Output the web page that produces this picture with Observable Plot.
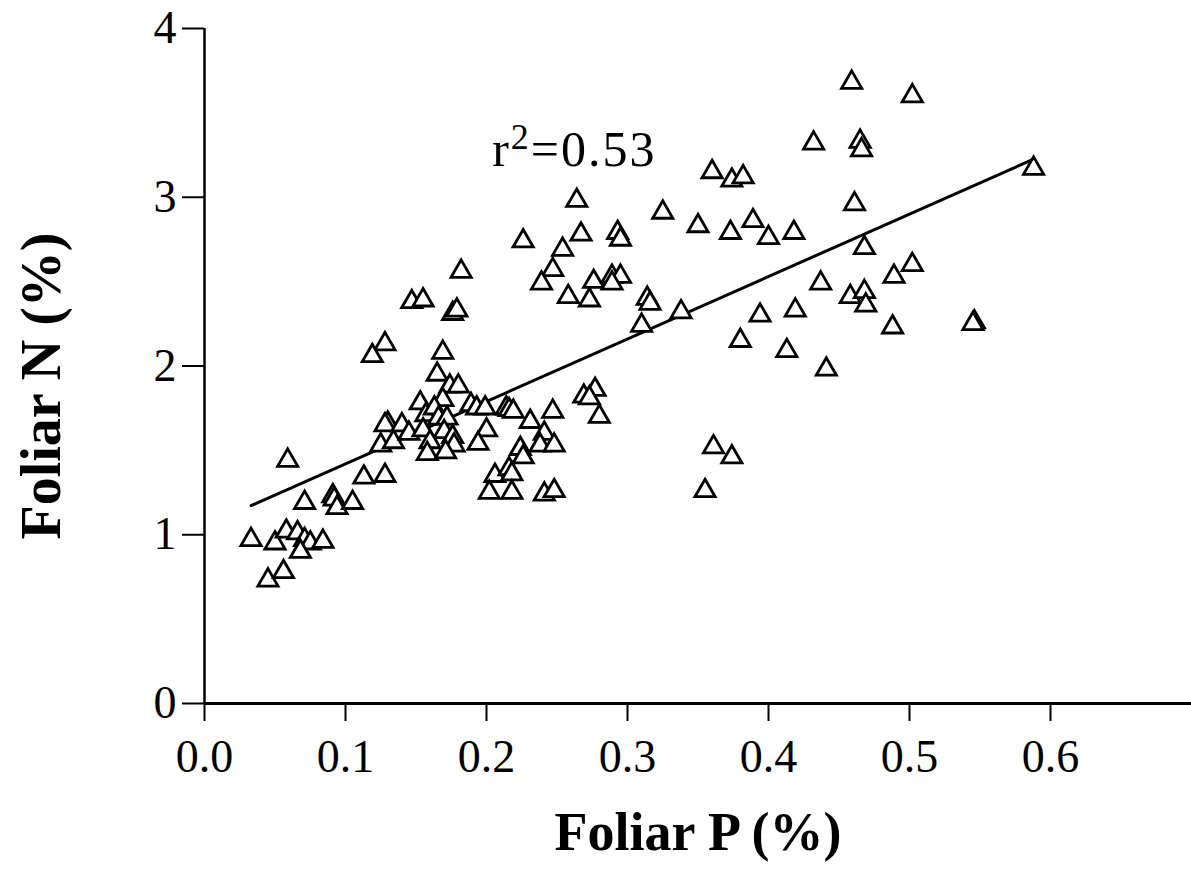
<!DOCTYPE html>
<html>
<head>
<meta charset="utf-8">
<script src="https://cdn.jsdelivr.net/npm/d3@7"></script>
<script src="https://cdn.jsdelivr.net/npm/@observablehq/plot@0.6"></script>
<style>
  html, body { margin: 0; padding: 0; background: #fff; }
</style>
</head>
<body>
<div id="chart"></div>
<script>
// Foliar P (%) values
const foliarP = [
  0.033, 0.050, 0.058, 0.066, 0.071, 0.075, 0.068, 0.084, 0.045, 0.056,
  0.059, 0.071, 0.091, 0.092, 0.094, 0.105, 0.113, 0.128, 0.130, 0.128,
  0.125, 0.134, 0.140, 0.128, 0.119, 0.169, 0.165, 0.174, 0.180, 0.169,
  0.153, 0.145, 0.157, 0.163, 0.166, 0.172, 0.155, 0.170, 0.176, 0.160,
  0.177, 0.158, 0.171, 0.189, 0.193, 0.199, 0.214, 0.216, 0.219, 0.200,
  0.194, 0.231, 0.247, 0.241, 0.238, 0.248, 0.224, 0.226, 0.206, 0.216,
  0.218, 0.202, 0.218, 0.241, 0.248, 0.269, 0.277, 0.273, 0.280, 0.264,
  0.226, 0.267, 0.293, 0.295, 0.254, 0.247, 0.239, 0.258, 0.273, 0.276,
  0.289, 0.295, 0.289, 0.182, 0.147, 0.155, 0.176, 0.179, 0.360, 0.374,
  0.382, 0.325, 0.350, 0.373, 0.389, 0.400, 0.418, 0.461, 0.314, 0.316,
  0.338, 0.310, 0.468, 0.437, 0.458, 0.468, 0.469, 0.489, 0.394, 0.419,
  0.380, 0.488, 0.459, 0.502, 0.432, 0.465, 0.466, 0.588, 0.502, 0.546,
  0.545, 0.413, 0.441, 0.361, 0.374, 0.355
];
// Foliar N (%) values
const foliarN = [
  0.97, 0.95, 1.02, 1.01, 0.97, 0.95, 0.90, 0.96, 0.73, 0.78,
  1.44, 1.19, 1.23, 1.21, 1.16, 1.19, 1.34, 1.35, 1.66, 1.65,
  1.53, 1.55, 1.65, 2.13, 2.06, 2.08, 1.95, 1.88, 1.88, 1.80,
  1.78, 1.60, 1.71, 1.75, 1.69, 1.69, 1.62, 1.61, 1.58, 1.55,
  1.53, 1.48, 1.49, 1.77, 1.75, 1.75, 1.75, 1.74, 1.73, 1.62,
  1.54, 1.67, 1.73, 1.60, 1.53, 1.53, 1.51, 1.46, 1.35, 1.39,
  1.36, 1.25, 1.25, 1.24, 1.26, 1.82, 1.86, 1.81, 1.70, 2.98,
  2.74, 2.78, 2.79, 2.75, 2.69, 2.57, 2.49, 2.41, 2.39, 2.50,
  2.53, 2.53, 2.49, 2.56, 2.38, 2.39, 2.31, 2.33, 3.15, 3.10,
  3.12, 2.91, 2.83, 2.79, 2.86, 2.76, 2.79, 2.96, 2.40, 2.37,
  2.32, 2.24, 2.70, 2.49, 2.41, 2.44, 2.36, 2.53, 2.30, 2.33,
  2.15, 2.23, 3.68, 3.60, 3.32, 3.33, 3.28, 3.17, 2.60, 2.26,
  2.25, 2.09, 1.98, 1.52, 1.46, 1.26
];
// Regression fit
const fitIntercept = 1.05;
const fitSlope = 3.70;
// Tick values
const xTicks = [0, 0.1, 0.2, 0.3, 0.4, 0.5, 0.6];
const yTicks = [0, 1, 2, 3, 4];
// Texts
const xTitle = "Foliar P (%)";
const yTitle = "Foliar N (%)";
const annotation = [{label: "r2=0.53", p: 0.204, n: 3.28}];

const points = foliarP.map((p, i) => ({p, n: foliarN[i]}));
const lineX = d3.extent(foliarP);

const chart = Plot.plot({
  width: 1191,
  height: 882,
  marginLeft: 204,
  marginRight: 0,
  marginTop: 28,
  marginBottom: 179,
  style: {fontFamily: "'Liberation Serif', 'DejaVu Serif', serif", background: "#fff", color: "#000"},
  x: {domain: [0, 0.7]},
  y: {domain: [0, 4]},
  marks: [
    Plot.axisX({ticks: xTicks, tickFormat: d3.format(".1f"), tickSize: 18, tickPadding: 18, fontSize: 46, strokeWidth: 2, label: null}),
    Plot.axisY({ticks: yTicks, tickFormat: d3.format("d"), tickSize: 22, tickPadding: 6, fontSize: 46, strokeWidth: 2, label: null}),
    Plot.ruleY([0], {strokeWidth: 3}),
    Plot.ruleX([0], {strokeWidth: 2.5}),
    Plot.line(lineX, {x: d => d, y: d => fitIntercept + fitSlope * d, strokeWidth: 3, stroke: "#000"}),
    Plot.dot(points, {x: "p", y: "n", symbol: "triangle", r: 7.5, fill: "#fff", stroke: "#000", strokeWidth: 2.8}),
    Plot.text(annotation, {x: "p", y: "n", text: "label", textAnchor: "start", fontSize: 50, fill: "#000"}),
    Plot.text([xTitle], {frameAnchor: "bottom", textAnchor: "middle", lineAnchor: "bottom", dy: 146, fontSize: 54, fontWeight: "bold", fill: "#000"}),
    Plot.text([yTitle], {frameAnchor: "left", textAnchor: "middle", lineAnchor: "middle", dx: -162, dy: 20, rotate: -90, fontSize: 56, fontWeight: "bold", fill: "#000"})
  ]
});
document.getElementById("chart").appendChild(chart);

// Render the "2" of r2 as a true superscript
d3.select(chart).selectAll("text").filter(function() { return this.textContent === "r2=0.53"; })
  .each(function() {
    const t = d3.select(this);
    t.text(null).style("letter-spacing", "2px");
    t.append("tspan").text("r");
    t.append("tspan").attr("dy", -17).attr("font-size", 36).text("2");
    t.append("tspan").attr("dy", 17).text("=0.53");
  });
</script>
</body>
</html>
